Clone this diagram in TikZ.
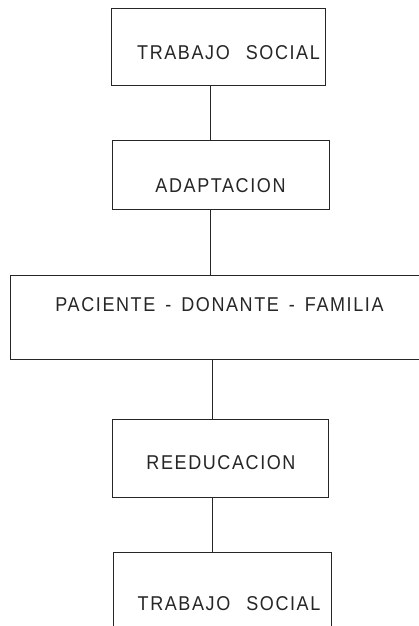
\documentclass[tikz,border=0pt]{standalone}
\usepackage{fontspec}
\setmainfont[LetterSpace=8, FakeStretch=0.9]{Liberation Sans}
\usepackage{tikz}
\usetikzlibrary{calc}

\begin{document}
\begin{tikzpicture}[x=1pt, y=-1pt,
  box/.style={draw=black!85, line width=0.8pt, rectangle, inner sep=0pt, outer sep=0pt},
  lbl/.style={font=\fontsize{20}{22}\selectfont, text=black!85, inner sep=0pt},
  link/.style={draw=black!85, line width=0.8pt}]
  \useasboundingbox[fill=white] (0,0) rectangle (418,626);
  % boxes
  \node[box, minimum width=214pt, minimum height=77pt] (social1) at (218,46.5) {};
  \node[box, minimum width=217pt, minimum height=69pt] (adapt) at (220.5,174.5) {};
  \node[box, minimum width=414pt, minimum height=84pt] (trio) at (217,317) {};
  \node[box, minimum width=216pt, minimum height=78pt] (reedu) at (220,458) {};
  \node[box, minimum width=218pt, minimum height=88pt] (social2) at (222,596) {};
  % texts
  \node[lbl] (social1txt) at (228.5,52.5) {TRABAJO\hspace{0.8em}SOCIAL};
  \node[lbl] (adapttxt) at (220.5,185.5) {ADAPTACION};
  \node[lbl] (triotxt) at (219.5,305) {PACIENTE\enspace-\enspace DONANTE\enspace-\enspace FAMILIA};
  \node[lbl] (reedutxt) at (221,462.5) {REEDUCACION};
  \node[lbl] (social2txt) at (229,604) {TRABAJO\hspace{0.8em}SOCIAL};
  % connectors
  \coordinate (upper) at (210,0);
  \coordinate (lower) at (212.5,0);
  \draw[link] (social1.south -| upper) -- (adapt.north -| upper);
  \draw[link] (adapt.south -| upper) -- (trio.north -| upper);
  \draw[link] (trio.south -| lower) -- (reedu.north -| lower);
  \draw[link] (reedu.south -| lower) -- (social2.north -| lower);
\end{tikzpicture}
\end{document}
